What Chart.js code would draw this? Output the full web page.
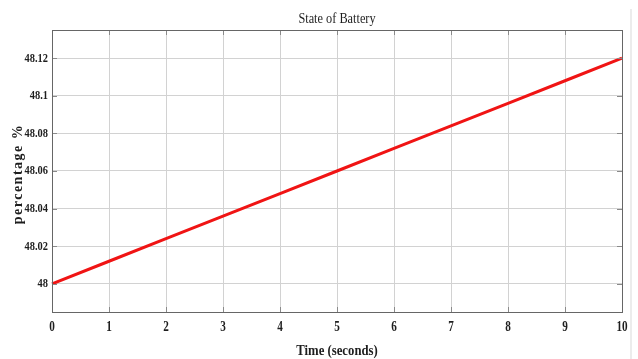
<!DOCTYPE html>
<html>
<head>
<meta charset="utf-8">
<script src="https://cdn.jsdelivr.net/npm/chart.js@4"></script>
<style>
  html, body { margin: 0; padding: 0; background: #fff; }
  #wrap { width: 638px; height: 359px; position: relative; }
  #edge { position: absolute; left: 630px; top: 9px; width: 2px; height: 350px; background: #ececec; }
</style>
</head>
<body>
<div id="wrap"><canvas id="c" width="638" height="359"></canvas><div id="edge"></div></div>
<script>
// Battery state of charge over the first ten seconds
const timeSeconds = [0, 1, 2, 3, 4, 5, 6, 7, 8, 9, 10];
const batteryPercent = [48.000, 48.012, 48.024, 48.036, 48.048, 48.060, 48.072, 48.084, 48.096, 48.108, 48.120];
const yTickValues = [48, 48.02, 48.04, 48.06, 48.08, 48.1, 48.12];
const xTickValues = [0, 1, 2, 3, 4, 5, 6, 7, 8, 9, 10];
const chartTitle = 'State of Battery';
const xAxisTitle = 'Time (seconds)';
const yAxisTitle = 'percentage %';

const serif = "'Liberation Serif', 'DejaVu Serif', serif";

// Writes condensed serif text centred/aligned on (x, y)
function narrowText(ctx, text, x, y, font, align, squeeze) {
  ctx.save();
  ctx.font = font;
  ctx.textAlign = align;
  ctx.textBaseline = 'middle';
  ctx.translate(x, y);
  ctx.scale(squeeze, 1);
  ctx.fillText(text, 0, 0);
  ctx.restore();
}

// Plot frame with inward ticks, tick labels and titles in a narrow serif face
const decorations = {
  id: 'decorations',
  afterDatasetsDraw(chart) {
    const { ctx, chartArea: a, scales } = chart;
    ctx.save();
    ctx.strokeStyle = '#8a8a8a';
    ctx.lineWidth = 1;
    const tick = 5;
    ctx.beginPath();
    xTickValues.forEach(v => {
      const px = Math.round(scales.x.getPixelForValue(v)) + 0.5;
      ctx.moveTo(px, a.top); ctx.lineTo(px, a.top + tick);
      ctx.moveTo(px, a.bottom); ctx.lineTo(px, a.bottom - tick);
    });
    yTickValues.forEach(v => {
      const py = Math.round(scales.y.getPixelForValue(v)) + 0.5;
      ctx.moveTo(a.left, py); ctx.lineTo(a.left + tick, py);
      ctx.moveTo(a.right, py); ctx.lineTo(a.right - tick, py);
    });
    ctx.stroke();

    ctx.strokeStyle = '#666';
    ctx.strokeRect(a.left + 0.5, a.top + 0.5, a.right - a.left, a.bottom - a.top);
    ctx.fillStyle = '#1e1e1e';

    // tick labels placed through the scales
    yTickValues.forEach(v => {
      narrowText(ctx, String(v), 48, scales.y.getPixelForValue(v), 'bold 13px ' + serif, 'right', 0.8);
    });
    xTickValues.forEach(v => {
      narrowText(ctx, String(v), scales.x.getPixelForValue(v), a.bottom + 15, 'bold 14px ' + serif, 'center', 0.8);
    });

    // titles
    narrowText(ctx, chartTitle, (a.left + a.right) / 2, 19, '15px ' + serif, 'center', 0.82);
    narrowText(ctx, xAxisTitle, (a.left + a.right) / 2, 351, 'bold 15px ' + serif, 'center', 0.85);

    ctx.save();
    ctx.translate(18, 174);
    ctx.rotate(-Math.PI / 2);
    ctx.font = 'bold 14px ' + serif;
    ctx.textAlign = 'center';
    ctx.textBaseline = 'middle';
    ctx.letterSpacing = '1.5px';
    ctx.fillText(yAxisTitle, 0, 0);
    ctx.restore();
    ctx.restore();
  }
};

new Chart(document.getElementById('c'), {
  type: 'line',
  data: {
    datasets: [{
      data: timeSeconds.map((t, i) => ({ x: t, y: batteryPercent[i] })),
      borderColor: '#f01414',
      borderWidth: 3,
      pointRadius: 0,
      tension: 0,
      clip: false
    }]
  },
  plugins: [decorations],
  options: {
    responsive: false,
    animation: false,
    layout: { padding: { left: 0, right: 16, top: 30, bottom: 0 } },
    plugins: {
      legend: { display: false },
      tooltip: { enabled: false },
      title: { display: false }
    },
    scales: {
      x: {
        type: 'linear',
        min: 0,
        max: 10,
        afterBuildTicks: s => { s.ticks = xTickValues.map(v => ({ value: v })); },
        afterFit: s => { s.height = 47; },
        grid: { color: '#d2d2d2', lineWidth: 1, drawTicks: false },
        border: { display: false },
        ticks: { display: false }
      },
      y: {
        type: 'linear',
        min: 47.985,
        max: 48.135,
        afterBuildTicks: s => { s.ticks = yTickValues.map(v => ({ value: v })); },
        afterFit: s => { s.width = 52; },
        grid: { color: '#d2d2d2', lineWidth: 1, drawTicks: false },
        border: { display: false },
        ticks: { display: false }
      }
    }
  }
});
</script>
</body>
</html>
